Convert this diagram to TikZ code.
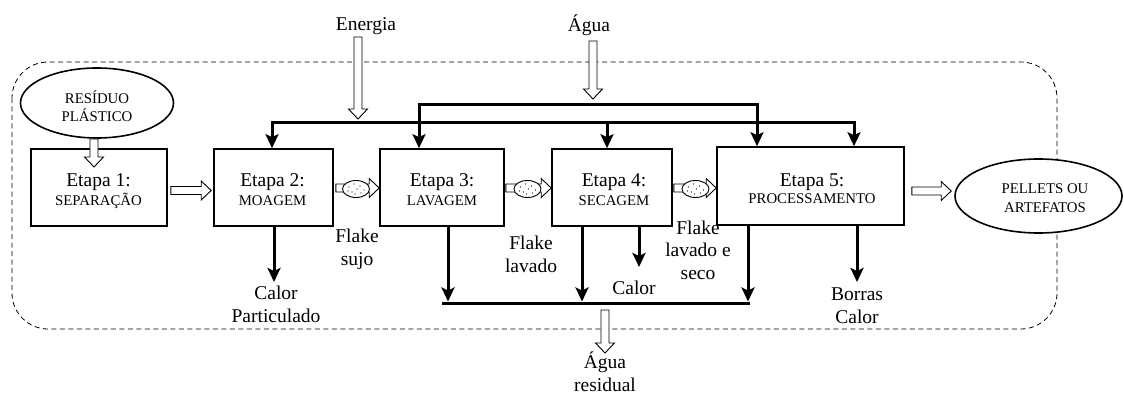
\documentclass[tikz,border=0pt]{standalone}
\usepackage{fontspec}
\setmainfont{Liberation Serif}
\usetikzlibrary{arrows.meta,calc,shapes.geometric}
\newcommand\bigf{\fontsize{19.5}{22.5}\selectfont}
\newcommand\smf{\fontsize{14.8}{17}\selectfont}
\newcommand\harr[2]{\draw[hollow] ($(#1)+(0,-4)$) -- ($(#2)+(-10,-4)$) -- ($(#2)+(-10,-9.5)$) -- (#2) -- ($(#2)+(-10,9.5)$) -- ($(#2)+(-10,4)$) -- ($(#1)+(0,4)$) -- cycle;}
\newcommand\varr[2]{\draw[hollow] ($(#1)+(-4,0)$) -- ($(#2)+(-4,-10)$) -- ($(#2)+(-9.5,-10)$) -- (#2) -- ($(#2)+(9.5,-10)$) -- ($(#2)+(4,-10)$) -- ($(#1)+(4,0)$) -- cycle;}
\newcommand\flakedots[1]{\foreach \dx/\dy in {-7/-2,-2/-5,4/-3,8/1,-4/3,1/0,5/4,-1/5,-8/2}{\fill ($(#1)+(\dx,\dy)$) circle (0.7pt);}}
\begin{document}
\begin{tikzpicture}[x=1pt,y=-1pt,
 >={Stealth[length=14pt,width=13pt,inset=3pt]},
 box/.style={draw, line width=1.6pt, inner sep=0, minimum height=77pt, fill=white},
 oval/.style={draw, ellipse, line width=1.6pt, fill=white, inner sep=0},
 thk/.style={line width=3pt},
 hollow/.style={draw, fill=white, line width=0.9pt, line join=miter},
 lbl/.style={font=\bigf, align=center, inner sep=0, anchor=base},
 sml/.style={font=\smf, inner sep=0, anchor=base},
 flake/.style={draw, ellipse, fill=white, line width=0.9pt, minimum width=27pt, minimum height=17pt, inner sep=0},
 frame/.style={dash pattern=on 5pt off 3.5pt, line width=0.8pt, rounded corners=36pt}]
\useasboundingbox (0,0) rectangle (1124,393);
% process boundary
\draw[frame] (12,62) rectangle (1057,329);
% boxes
\node[box, minimum width=136pt] (b1) at (99,187.5) {};
\node[box, minimum width=119pt] (b2) at (273.5,187.5) {};
\node[box, minimum width=124pt] (b3) at (442,187.5) {};
\node[box, minimum width=120pt] (b4) at (612,187.5) {};
\node[box, minimum width=187pt, minimum height=78pt] (b5) at (810.5,186) {};
\node[oval, minimum width=153pt, minimum height=70pt] (res) at (97,103) {};
\node[oval, minimum width=167pt, minimum height=74pt] (pel) at (1038.5,196) {};
% water distribution line
\coordinate (wa) at (419,105);
\coordinate (wb) at (757,105);
\draw[thk,<->] (wa |- b3.north) -- (wa) -- (wb) -- (wb |- b5.north);
% energy distribution line
\coordinate (ea) at (272,123);
\coordinate (eb) at (854,123);
\coordinate (ec) at (607,123);
\draw[thk,<->] (ea |- b2.north) -- (ea) -- (eb) -- (eb |- b5.north);
\draw[thk,->] (ec) -- (ec |- b4.north);
% outputs
\coordinate (c2) at (274,282);
\draw[thk,->] (c2 |- b2.south) -- (c2);
\coordinate (rl) at (442,303);
\coordinate (rr) at (749.5,303);
\draw[thk] (rl) -- (rr);
\coordinate (d3) at (448,301.5);
\coordinate (d4) at (582,301.5);
\coordinate (d5) at (748,301.5);
\draw[thk,->] (d3 |- b3.south) -- (d3);
\draw[thk,->] (d4 |- b4.south) -- (d4);
\draw[thk,->] (d5 |- b5.south) -- (d5);
\coordinate (c4) at (639,267);
\draw[thk,->] (c4 |- b4.south) -- (c4);
\coordinate (c5) at (857,282);
\draw[thk,->] (c5 |- b5.south) -- (c5);
% hollow arrows
\coordinate (en1) at (358,37); \coordinate (en2) at (358,119);
\varr{en1}{en2}
\coordinate (ag1) at (593,41); \coordinate (ag2) at (593,99);
\varr{ag1}{ag2}
\coordinate (ar1) at (605,310); \coordinate (ar2) at (605,353);
\varr{ar1}{ar2}
\coordinate (rs1) at (94,139); \coordinate (rs2) at (94,167);
\varr{rs1}{rs2}
\coordinate (h1) at ($(b1.east)+(3,3)$); \coordinate (h2) at ($(b2.west)+(-2,3)$);
\harr{h1}{h2}
\coordinate (h5) at ($(b5.east)+(7,5)$); \coordinate (h6) at ($(pel.west)+(-3,-5)$);
\harr{h5}{h6}
\coordinate (f1) at ($(b2.east)+(2,0.5)$); \coordinate (f2) at ($(b3.west)+(0,0.5)$);
\harr{f1}{f2}
\coordinate (f3) at ($(b3.east)+(1,0.5)$); \coordinate (f4) at ($(b4.west)+(0,0.5)$);
\harr{f3}{f4}
\coordinate (f5) at ($(b4.east)+(1,0.5)$); \coordinate (f6) at ($(b5.west)+(0,2)$);
\harr{f5}{f6}
\node[flake] (fl1) at (356,189) {}; \flakedots{fl1}
\node[flake] (fl2) at (527.5,189) {}; \flakedots{fl2}
\node[flake] (fl3) at (695.5,189) {}; \flakedots{fl3}
% texts in boxes
\node[lbl] (t1) at (98.5,186) {Etapa 1:};
\node[sml] (s1) at (98.5,205) {SEPARAÇÃO};
\node[lbl] (t2) at (272.5,186) {Etapa 2:};
\node[sml] (s2) at (272.5,205) {MOAGEM};
\node[lbl] (t3) at (442,186) {Etapa 3:};
\node[sml] (s3) at (442,205) {LAVAGEM};
\node[lbl] (t4) at (614,186) {Etapa 4:};
\node[sml] (s4) at (614,205) {SECAGEM};
\node[lbl] (t5) at (812,186) {Etapa 5:};
\node[sml] (s5) at (812,203) {PROCESSAMENTO};
\node[sml] (r1) at (97,104) {RESÍDUO};
\node[sml] (r2) at (97,122) {PLÁSTICO};
\node[sml] (p1) at (1045,193) {PELLETS OU};
\node[sml] (p2) at (1045,212) {ARTEFATOS};
% labels (anchor = baseline of last line)
\node[lbl] (lE) at (366,31) {Energia};
\node[lbl] (lA) at (589,32) {Água};
\node[lbl] (lC2) at (276,322) {Calor\\Particulado};
\node[lbl] (lF1) at (357,265) {Flake\\sujo};
\node[lbl] (lF2) at (531,272) {Flake\\lavado};
\node[lbl] (lC4) at (634,294) {Calor};
\node[lbl] (lF3) at (698,279) {Flake\\lavado e\\seco};
\node[lbl] (lB) at (857,323) {Borras\\Calor};
\node[lbl] (lR) at (605,391) {Água\\residual};
\end{tikzpicture}
\end{document}
